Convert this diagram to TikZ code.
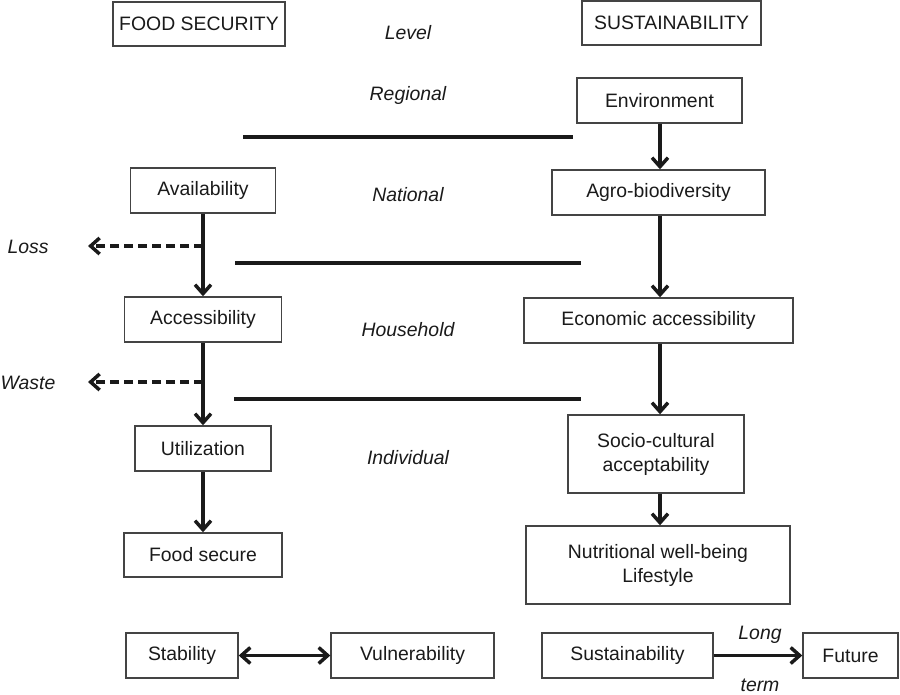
\documentclass[tikz,border=0pt]{standalone}
\usepackage{fontspec}
\setmainfont{Liberation Sans}
\usetikzlibrary{arrows.meta}
\definecolor{ink}{HTML}{1A1A1A}
\definecolor{boxline}{HTML}{444444}
\tikzset{
  box/.style={draw=boxline, line width=1.4pt, rectangle, inner sep=0pt, align=center, text=ink, font=\fontsize{19.4}{24}\selectfont},
  lvl/.style={text=ink, font=\fontsize{19.4}{24}\selectfont\itshape, inner sep=0pt},
  flow/.style={draw=ink, line width=3.5pt, -{Straight Barb[length=9pt,width=16pt,line width=3.5pt]}},
  both/.style={draw=ink, line width=3.5pt, {Straight Barb[length=9pt,width=16pt,line width=3.5pt]}-{Straight Barb[length=9pt,width=16pt,line width=3.5pt]}},
  lossflow/.style={draw=ink, line width=3.5pt, dash pattern=on 9pt off 5pt, -{Straight Barb[length=9pt,width=16pt,line width=3.5pt]}},
  divider/.style={draw=ink, line width=3.5pt}
}
\begin{document}
\begin{tikzpicture}[x=1pt,y=-1pt]
\useasboundingbox (0,0) rectangle (900,694);
% header boxes
\node[box, minimum width=172pt, minimum height=44pt] (fs) at (199,24) {FOOD SECURITY};
\node[box, minimum width=179pt, minimum height=44pt] (sus) at (671.5,23) {SUSTAINABILITY};
% level labels
\node[lvl] (lev) at (408,33) {Level};
\node[lvl] (reg) at (408,95) {Regional};
\node[lvl] (nat) at (408,195) {National};
\node[lvl] (hh) at (408,330) {Household};
\node[lvl] (ind) at (408,458) {Individual};
\node[lvl] (loss) at (28,247) {Loss};
\node[lvl] (waste) at (28,383) {Waste};
% left column
\node[box, minimum width=145pt, minimum height=45pt] (avail) at (203,190.5) {Availability};
\node[box, minimum width=157pt, minimum height=45pt] (access) at (203,319.5) {Accessibility};
\node[box, minimum width=136pt, minimum height=45pt] (util) at (203,448.5) {Utilization};
\node[box, minimum width=158pt, minimum height=44pt] (food) at (203,555) {Food secure};
% right column
\node[box, minimum width=165pt, minimum height=45pt] (env) at (659.5,100.5) {Environment};
\node[box, minimum width=213pt, minimum height=45pt] (agro) at (658.5,192.5) {Agro-biodiversity};
\node[box, minimum width=269pt, minimum height=45pt] (econ) at (658.5,320.5) {Economic accessibility};
\node[box, minimum width=176pt, minimum height=78pt] (socio) at (656,454) {Socio-cultural\\acceptability};
\node[box, minimum width=264pt, minimum height=78pt] (nutri) at (658,565) {Nutritional well-being\\Lifestyle};
% bottom row
\node[box, minimum width=112pt, minimum height=45pt] (stab) at (182,655.5) {Stability};
\node[box, minimum width=163pt, minimum height=45pt] (vuln) at (412.5,655.5) {Vulnerability};
\node[box, minimum width=171pt, minimum height=45pt] (sust) at (627.5,655.5) {Sustainability};
\node[box, minimum width=95pt, minimum height=45pt] (fut) at (850.5,655.5) {Future};
\node[lvl] (long) at (760,635) {Long};
\node[lvl] (term) at (760,685) {term};
% dividers
\coordinate (d1a) at (243,137); \coordinate (d1b) at (573,137);
\coordinate (d2a) at (235,263); \coordinate (d2b) at (581,263);
\coordinate (d3a) at (234,399); \coordinate (d3b) at (581,399);
\draw[divider] (d1a) -- (d1b);
\draw[divider] (d2a) -- (d2b);
\draw[divider] (d3a) -- (d3b);
% left flows
\draw[flow] (avail.south) -- (access.north);
\draw[flow] (access.south) -- (util.north);
\draw[flow] (util.south) -- (food.north);
\coordinate (lossstart) at (203,246); \coordinate (lossend) at (88,246);
\coordinate (wastestart) at (203,382); \coordinate (wasteend) at (88,382);
\draw[lossflow] (lossstart) -- (lossend);
\draw[lossflow] (wastestart) -- (wasteend);
% right flows
\coordinate (rx) at (660,0);
\draw[flow] (env.south -| rx) -- (agro.north -| rx);
\draw[flow] (agro.south -| rx) -- (econ.north -| rx);
\draw[flow] (econ.south -| rx) -- (socio.north -| rx);
\draw[flow] (socio.south -| rx) -- (nutri.north -| rx);
% bottom flows
\draw[both] (stab.east) -- (vuln.west);
\draw[flow] (sust.east) -- (fut.west);
\end{tikzpicture}
\end{document}
